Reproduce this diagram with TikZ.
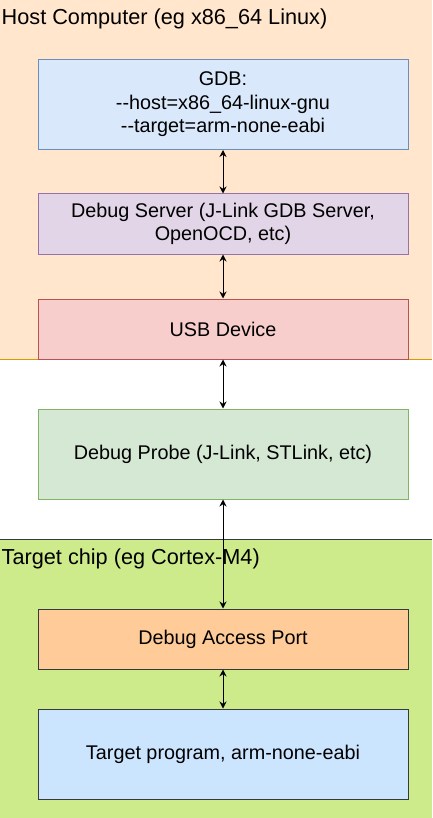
\documentclass[tikz,border=0pt]{standalone}
\usepackage{fontspec}
\setmainfont{Liberation Sans}[Ligatures=NoCommon]
\usetikzlibrary{arrows.meta}
\definecolor{hostfill}{HTML}{FFE6CC}
\definecolor{hostline}{HTML}{D79B00}
\definecolor{chipfill}{HTML}{CDEB8B}
\definecolor{darkline}{HTML}{36393D}
\definecolor{bluefill}{HTML}{DAE8FC}
\definecolor{blueline}{HTML}{6C8EBF}
\definecolor{purplefill}{HTML}{E1D5E7}
\definecolor{purpleline}{HTML}{9673A6}
\definecolor{redfill}{HTML}{F8CECC}
\definecolor{redline}{HTML}{B85450}
\definecolor{greenfill}{HTML}{D5E8D4}
\definecolor{greenline}{HTML}{82B366}
\definecolor{orangefill}{HTML}{FFCC99}
\definecolor{lightbluefill}{HTML}{CCE5FF}
\tikzset{
  box/.style={draw, line width=1pt, minimum width=370pt, inner sep=0pt, align=center,
    font=\fontsize{19.8}{23.5}\selectfont},
  tall/.style={minimum height=90pt},
  short/.style={minimum height=60pt},
  regionlabel/.style={anchor=base west, inner sep=0pt, font=\fontsize{21.7}{25}\selectfont},
  link/.style={draw=black, line width=1pt, {Stealth[length=7pt,width=7pt]}-{Stealth[length=7pt,width=7pt]}}
}
\begin{document}
\begin{tikzpicture}[x=1pt,y=-1pt]
\useasboundingbox (0,0) rectangle (432,818);
% regions
\fill[hostfill] (0,0) rectangle (432,359);
\draw[hostline, line width=1pt] (0,359) -- (432,359);
\fill[chipfill] (0,539) rectangle (432,818);
\draw[darkline, line width=1pt] (0,539) -- (432,539);
\node[regionlabel] (hostlabel) at (1.5,24.5) {Host Computer (eg x86\_64 Linux)};
\node[regionlabel] (chiplabel) at (1.5,564.5) {Target chip (eg Cortex-M4)};
% boxes
\node[box, tall, fill=bluefill, draw=blueline] (gdb) at (223,104.5) {GDB:\\-{}-host=x86\_64-linux-gnu\\-{}-target=arm-none-eabi};
\node[box, short, fill=purplefill, draw=purpleline] (server) at (223,224) {Debug Server (J-Link GDB Server,\\OpenOCD, etc)};
\node[box, short, fill=redfill, draw=redline] (usb) at (223,329) {USB Device};
\node[box, tall, fill=greenfill, draw=greenline] (probe) at (223,454) {Debug Probe (J-Link, STLink, etc)};
\node[box, short, fill=orangefill, draw=darkline] (dap) at (223,639) {Debug Access Port};
\node[box, tall, fill=lightbluefill, draw=darkline] (prog) at (223,754) {Target program, arm-none-eabi};
% links
\draw[link] (gdb) -- (server);
\draw[link] (server) -- (usb);
\draw[link] (usb) -- (probe);
\draw[link] (probe) -- (dap);
\draw[link] (dap) -- (prog);
\end{tikzpicture}
\end{document}
